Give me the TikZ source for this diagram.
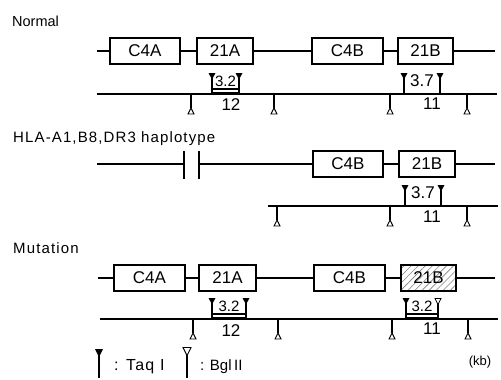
\documentclass[tikz,border=0pt]{standalone}
\usepackage{fontspec}
\setmainfont{Liberation Sans}
\newfontfamily\widefont[LetterSpace=7.5]{Liberation Sans}
\usetikzlibrary{patterns.meta}
\begin{document}
\begin{tikzpicture}[x=1pt,y=-1pt,
 gene/.style={draw, line width=1.3pt, minimum height=26pt, inner sep=0pt, font=\fontsize{17}{17}\selectfont},
 title/.style={anchor=base west, inner sep=0pt, font=\fontsize{14.5}{15}\selectfont},
 widetitle/.style={anchor=base west, inner sep=0pt, font=\widefont\fontsize{15}{15}\selectfont},
 num/.style={inner sep=0pt, font=\fontsize{17}{17}\selectfont},
 wire/.style={line width=1.3pt},
 taqsite/.pic={\fill (-3.5,0) -- (3.5,0) -- (0,6.5) -- cycle; \draw[line width=1.4pt] (0,0) -- (0,21);},
 taqopen/.pic={\draw[line width=1.4pt] (0,6) -- (0,21); \draw[line width=0.8pt, fill=white] (-3,0.5) -- (3,0.5) -- (0,6.5) -- cycle;},
 bglsite/.pic={\draw[line width=1.3pt] (0,0) -- (0,14); \draw[line width=0.9pt, fill=white] (-3,20) -- (3,20) -- (0,14) -- cycle;},
]
\useasboundingbox (0,0) rectangle (501,380);

% ---------------- Normal ----------------
\node[title] (tnormal) at (12,27) {Normal};
\coordinate (g1l) at (97,51);
\coordinate (g1r) at (495,51);
\node[gene, minimum width=70pt] (c4a1) at (145,51) {C4A};
\node[gene, minimum width=56pt] (a21a) at (225,51) {21A};
\node[gene, minimum width=71pt] (c4b1) at (347.5,51) {C4B};
\node[gene, minimum width=55pt] (b21a) at (425.5,51) {21B};
\draw[wire] (g1l) -- (c4a1) (c4a1) -- (a21a) (a21a) -- (c4b1) (c4b1) -- (b21a) (b21a) -- (g1r);

\coordinate (m1l) at (97,94);
\coordinate (m1r) at (497,94);
\draw[wire] (m1l) -- (m1r);
\foreach \x in {191,274,390,467} \pic at (\x,94) {bglsite};
\pic at (212,73) {taqsite};
\pic at (239,73) {taqsite};
\draw[line width=1.2pt] (212,89) -- (239,89);
\draw[line width=2.2pt] (212,93.5) -- (239,93.5);
\node[num, font=\fontsize{15}{15}\selectfont] (f32a) at (225.5,81) {3.2};
\node[num] (f12a) at (231,105) {12};
\pic at (404,73) {taqsite};
\pic at (440,73) {taqsite};
\node[num] (f37a) at (422,80.5) {3.7};
\node[num] (f11a) at (432,104) {11};

% ---------------- HLA ----------------
\node[widetitle] (thla) at (13,142) {HLA-A1,B8,DR3 haplotype};
\coordinate (g2l) at (97,164);
\coordinate (br1) at (184,164);
\coordinate (br2) at (199,164);
\coordinate (g2r) at (495,164);
\node[gene, minimum width=70pt] (c4b2) at (348,164) {C4B};
\node[gene, minimum width=56pt] (b21b) at (427,164) {21B};
\draw[wire] (g2l) -- (br1) (br2) -- (c4b2) (c4b2) -- (b21b) (b21b) -- (g2r);
\draw[line width=1.3pt] (184,151) -- (184,179) (199,151) -- (199,179);

\coordinate (m2l) at (268,206);
\coordinate (m2r) at (498,206);
\draw[wire] (m2l) -- (m2r);
\foreach \x in {277,390,467} \pic at (\x,206) {bglsite};
\pic at (405,185) {taqsite};
\pic at (441,185) {taqsite};
\node[num] (f37b) at (423,192.5) {3.7};
\node[num] (f11b) at (432,217) {11};

% ---------------- Mutation ----------------
\node[widetitle] (tmut) at (13,253) {Mutation};
\coordinate (g3l) at (98,278);
\coordinate (g3r) at (495,278);
\node[gene, minimum width=71pt] (c4a3) at (149.5,278) {C4A};
\node[gene, minimum width=57pt] (a21c) at (227.5,278) {21A};
\node[gene, minimum width=71pt] (c4b3) at (349.5,278) {C4B};
\node[gene, minimum width=55pt, pattern={Lines[angle=45,distance=5pt,line width=0.6pt]}, pattern color=gray] (b21c) at (428.5,278) {21B};
\draw[wire] (g3l) -- (c4a3) (c4a3) -- (a21c) (a21c) -- (c4b3) (c4b3) -- (b21c) (b21c) -- (g3r);

\coordinate (m3l) at (100,319);
\coordinate (m3r) at (498,319);
\draw[wire] (m3l) -- (m3r);
\foreach \x in {193,278,392,468} \pic at (\x,319) {bglsite};
\pic at (212,298) {taqsite};
\pic at (246,298) {taqsite};
\draw[line width=1.2pt] (212,314) -- (246,314);
\draw[line width=2.2pt] (212,318.5) -- (246,318.5);
\node[num, font=\fontsize{15}{15}\selectfont] (f32c) at (229,306) {3.2};
\node[num] (f12c) at (231,331) {12};
\pic at (406,298) {taqsite};
\pic at (438,298) {taqopen};
\draw[line width=1.2pt] (406,314) -- (438,314);
\draw[line width=2.2pt] (406,318.5) -- (438,318.5);
\node[num, font=\fontsize{15}{15}\selectfont] (f32d) at (422,306) {3.2};
\node[num] (f11c) at (432,329) {11};

% ---------------- Legend ----------------
\fill (95,349) -- (103,349) -- (99,357) -- cycle;
\draw[line width=1.5pt] (99,349) -- (99,378);
\node[inner sep=0pt, anchor=west, font=\widefont\fontsize{16}{16}\selectfont] (ltaq) at (114,367) {: Taq I};
\draw[line width=1.5pt] (187,355) -- (187,378);
\draw[line width=0.9pt, fill=white] (183,347.5) -- (191,347.5) -- (187,355.5) -- cycle;
\node[inner sep=0pt, anchor=west, font=\fontsize{15}{15}\selectfont] (lbgl) at (200,367) {: Bgl\,II};
\node[inner sep=0pt, font=\fontsize{13}{13}\selectfont] (kb) at (480,362) {(kb)};
\end{tikzpicture}
\end{document}
